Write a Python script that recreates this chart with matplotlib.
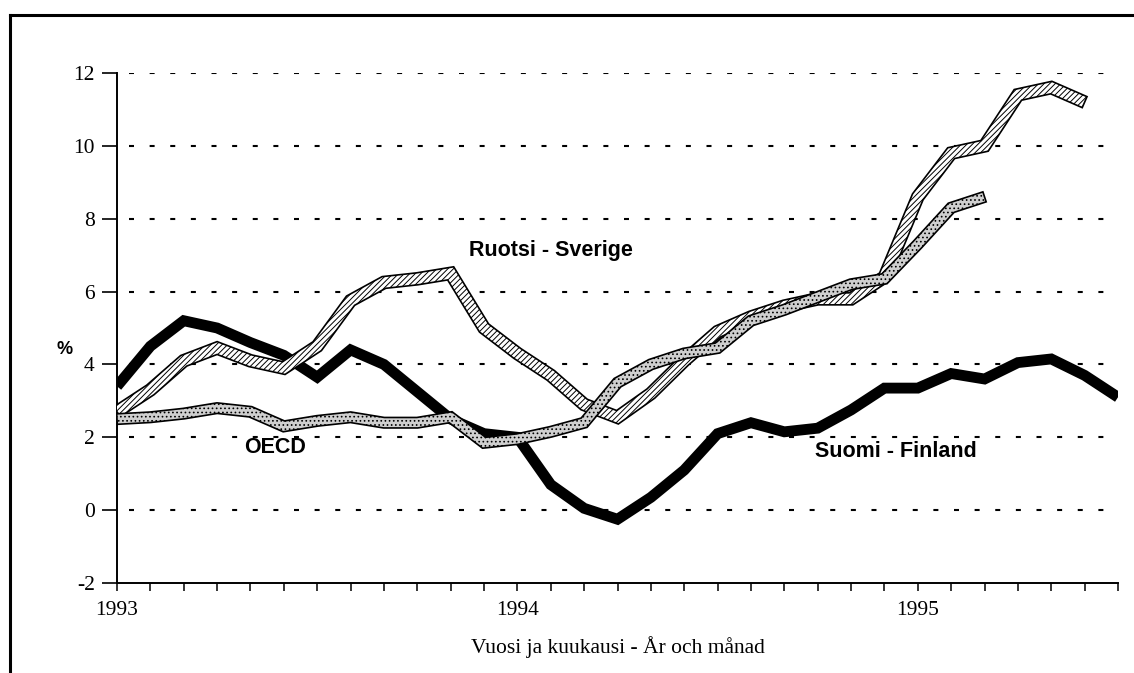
import numpy as np
import matplotlib
matplotlib.use("Agg")
import matplotlib.pyplot as plt
from matplotlib.patches import Polygon
from matplotlib.lines import Line2D

# months since Jan 1993
months_fin = np.arange(31)
months_swe = np.arange(30)
months_oecd = np.arange(27)

finland = [3.4, 4.5, 5.2, 5.0, 4.6, 4.25, 3.65, 4.4, 4.0, 3.25,
           2.5, 2.1, 2.0, 0.7, 0.05, -0.25, 0.35, 1.1, 2.1, 2.4,
           2.15, 2.25, 2.75, 3.35, 3.35, 3.75, 3.6, 4.05, 4.15, 3.7, 3.1]
sweden = [2.7, 3.3, 4.1, 4.45, 4.1, 3.9, 4.5, 5.75, 6.25, 6.35,
          6.5, 5.0, 4.3, 3.7, 2.9, 2.55, 3.2, 4.1, 4.9, 5.3,
          5.6, 5.8, 5.8, 6.4, 8.6, 9.8, 10.0, 11.4, 11.6, 11.2]
oecd = [2.5, 2.55, 2.65, 2.8, 2.7, 2.3, 2.45, 2.55, 2.4, 2.4,
        2.55, 1.85, 1.95, 2.15, 2.4, 3.5, 4.0, 4.3, 4.45, 5.2,
        5.5, 5.85, 6.2, 6.35, 7.3, 8.3, 8.6]

year_ticks = [0, 12, 24]
year_labels = ["1993", "1994", "1995"]
y_ticks = [-2, 0, 2, 4, 6, 8, 10, 12]

plt.rcParams['hatch.linewidth'] = 0.7
serif = "Liberation Serif"
sans = "Liberation Sans"


def _ribbon(ax, x, y, width_px, facecolor, hatch, zorder):
    """Draw a line as an outlined band so it can carry a hatch texture."""
    pts = ax.transData.transform(np.column_stack([x, y]))
    n = len(pts)
    half = width_px / 2.0
    left, right = [], []
    for i in range(n):
        if i == 0:
            d = pts[1] - pts[0]
            off = np.array([-d[1], d[0]]) / np.hypot(*d) * half
        elif i == n - 1:
            d = pts[-1] - pts[-2]
            off = np.array([-d[1], d[0]]) / np.hypot(*d) * half
        else:
            d1 = pts[i] - pts[i - 1]
            d2 = pts[i + 1] - pts[i]
            n1 = np.array([-d1[1], d1[0]]) / np.hypot(*d1)
            n2 = np.array([-d2[1], d2[0]]) / np.hypot(*d2)
            m = n1 + n2
            m = m / np.hypot(*m)
            scale = min(half / max(np.dot(m, n1), 0.3), half * 2.5)
            off = m * scale
        left.append(pts[i] + off)
        right.append(pts[i] - off)
    poly = np.vstack([left, right[::-1]])
    poly = ax.transData.inverted().transform(poly)
    ax.add_patch(Polygon(poly, closed=True, facecolor=facecolor,
                         edgecolor="black", hatch=hatch, linewidth=1.2,
                         joinstyle="miter", zorder=zorder))


fig = plt.figure(figsize=(11.34, 6.73), dpi=100)
ax = fig.add_axes([117 / 1134, 90 / 673, 1001 / 1134, 510 / 673])
ax.set_xlim(0, 30)
ax.set_ylim(-2, 12)

# dashed grid
for v in y_ticks[1:]:
    ax.axhline(v, xmin=0.012, xmax=0.993, color="black", lw=1.5,
               linestyle=(0, (2.4, 7.5)), zorder=1)

ax.plot(months_fin, finland, color="black", lw=7.8,
        solid_joinstyle="miter", solid_capstyle="butt", zorder=3)
_ribbon(ax, months_swe, sweden, 12, "white", "//////", 4)
_ribbon(ax, months_oecd, oecd, 10.5, "#cfcfcf", "....", 5)

for s in ["top", "right"]:
    ax.spines[s].set_visible(False)
for s in ["left", "bottom"]:
    ax.spines[s].set_linewidth(1.4)

ax.set_yticks(y_ticks)
ax.set_yticklabels([str(v) for v in y_ticks], fontfamily=serif, fontsize=15.5)
ax.tick_params(axis="y", direction="out", length=11, width=1.2, pad=5)
ax.set_xticks(np.arange(31), minor=True)
ax.set_xticks(year_ticks)
ax.set_xticklabels(year_labels, fontfamily=serif, fontsize=15.5)
ax.tick_params(axis="x", which="both", direction="out", length=6,
               width=1.1, pad=7)

ax.set_xlabel("Vuosi ja kuukausi - År och månad", fontfamily=serif,
              fontsize=15.5)
ax.xaxis.set_label_coords(0.5, -0.105)

ax.text(-1.56, 4.4, "%", fontfamily=sans, fontweight="bold", fontsize=13,
        ha="center", va="center", clip_on=False)
ax.text(13.0, 7.12, "Ruotsi - Sverige", fontfamily=sans, fontweight="bold",
        fontsize=15.5, ha="center", va="center")
ax.text(4.73, 1.73, "OECD", fontfamily=sans, fontweight="bold",
        fontsize=15.5, ha="center", va="center")
ax.text(23.35, 1.62, "Suomi - Finland", fontfamily=sans, fontweight="bold",
        fontsize=15.5, ha="center", va="center")

# page frame
fig.add_artist(Line2D([10 / 1134, 10 / 1134], [0, 1 - 15 / 673],
                      color="black", lw=2.2))
fig.add_artist(Line2D([10 / 1134, 1], [1 - 15 / 673, 1 - 15 / 673],
                      color="black", lw=2.2))

fig.savefig("out.png", dpi=100)
